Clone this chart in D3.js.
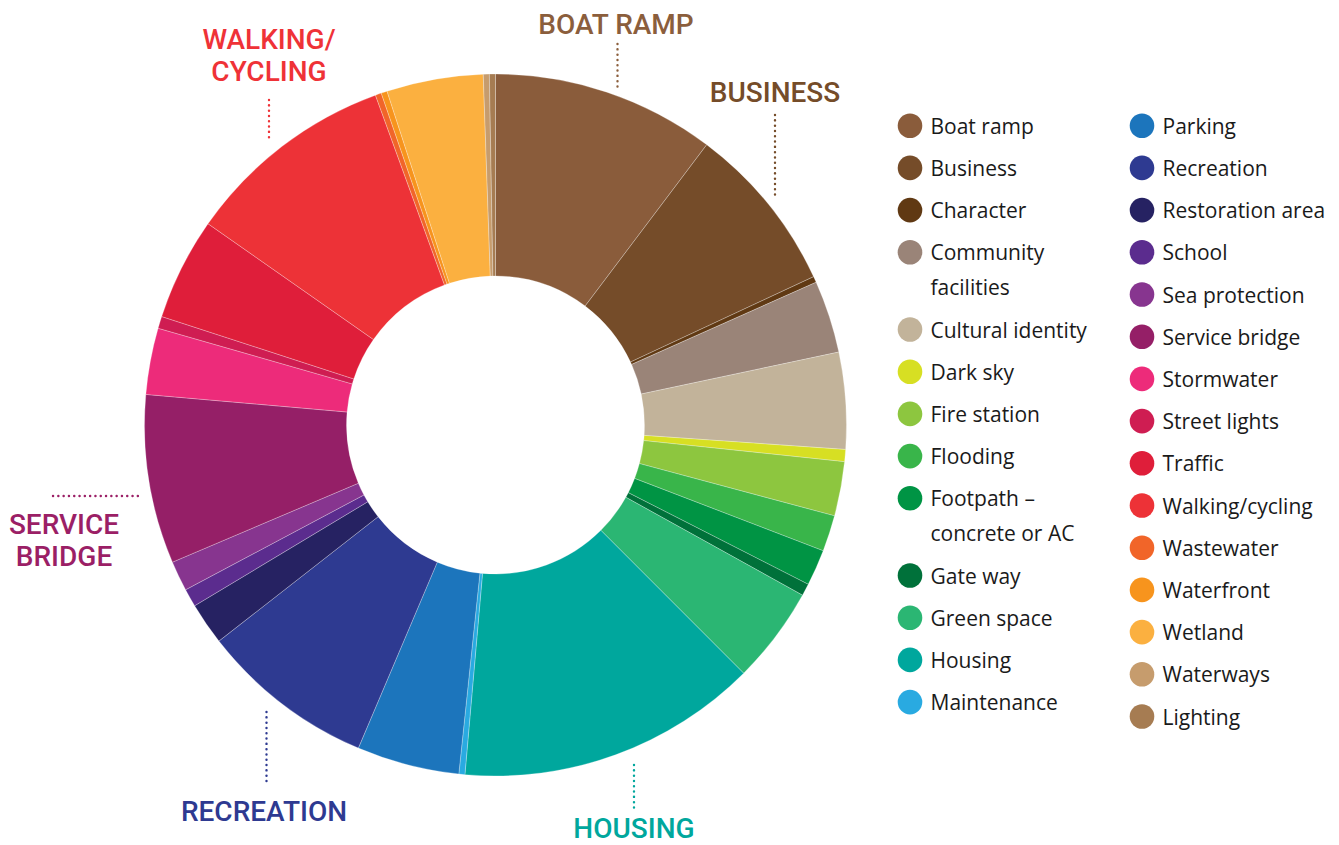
<!DOCTYPE html>
<html>
<head>
<meta charset="utf-8">
<script src="https://cdn.jsdelivr.net/npm/d3@7"></script>
<style>
  html, body { margin: 0; padding: 0; background: #fff; }
  svg { display: block; }
</style>
</head>
<body>
<div id="chart"></div>
<script>

/* DATA */

const categories = [
  "Boat ramp", "Business", "Character", "Community facilities", "Cultural identity",
  "Dark sky", "Fire station", "Flooding", "Footpath – concrete or AC", "Gate way",
  "Green space", "Housing", "Maintenance", "Parking", "Recreation",
  "Restoration area", "School", "Sea protection", "Service bridge", "Stormwater",
  "Street lights", "Traffic", "Walking/cycling", "Wastewater", "Waterfront",
  "Wetland", "Waterways", "Lighting"
];

// share of comments (degrees of 360)
const values = [
  37, 28, 1, 12, 16,
  2, 9, 6, 6, 2,
  16, 50, 1, 17, 29,
  7, 3, 5, 28, 11,
  2, 17, 35, 1, 1,
  16, 1, 1
];

const colors = [
  "#8a5c3b", "#754c29", "#603913", "#9a8478", "#c2b39a",
  "#d7df23", "#8dc63f", "#39b54a", "#009444", "#00713a",
  "#2bb673", "#00a79d", "#29aae1", "#1c75bc", "#2e3a91",
  "#262262", "#5b2c8e", "#87358f", "#951f67", "#ed2b7a",
  "#cf1d52", "#df1e3a", "#ed3237", "#f16529", "#f7941d",
  "#fbb040", "#c69c6d", "#a67c52"
];

// legend rows (wrapped labels split into lines)
const legendCol1 = [
  ["Boat ramp"], ["Business"], ["Character"], ["Community", "facilities"],
  ["Cultural identity"], ["Dark sky"], ["Fire station"], ["Flooding"],
  ["Footpath –", "concrete or AC"], ["Gate way"], ["Green space"], ["Housing"],
  ["Maintenance"]
];
const legendCol2 = [
  ["Parking"], ["Recreation"], ["Restoration area"], ["School"], ["Sea protection"],
  ["Service bridge"], ["Stormwater"], ["Street lights"], ["Traffic"],
  ["Walking/cycling"], ["Wastewater"], ["Waterfront"], ["Wetland"],
  ["Waterways"], ["Lighting"]
];

// big callouts around the ring
const callouts = [
  { cat: "Boat ramp", lines: ["BOAT RAMP"], color: "#8b5e3c" },
  { cat: "Business", lines: ["BUSINESS"], color: "#754c29" },
  { cat: "Walking/cycling", lines: ["WALKING/", "CYCLING"], color: "#ef3237" },
  { cat: "Service bridge", lines: ["SERVICE", "BRIDGE"], color: "#9b1f66" },
  { cat: "Recreation", lines: ["RECREATION"], color: "#2e3a91" },
  { cat: "Housing", lines: ["HOUSING"], color: "#00a79d" }
];

/* LAYOUT */

const width = 1339;
const height = 845;
const cx = 495.5, cy = 425;
const outerR = 351, innerR = 149;

// label x/baseline and dotted leader per callout
const calloutPos = {
  "Boat ramp":       { x: 616, y: 34,  line: [[617.5, 44], [617.5, 87]] },
  "Business":        { x: 775, y: 102, line: [[775, 115], [775, 199]] },
  "Walking/cycling": { x: 269, y: 49,  line: [[269, 100], [269, 141]] },
  "Service bridge":  { x: 64,  y: 534, line: [[53, 496], [139, 496]] },
  "Recreation":      { x: 264, y: 821, line: [[266.5, 712], [266.5, 786]] },
  "Housing":         { x: 634, y: 838, line: [[634, 765], [634, 808]] }
};

const legend = {
  col1x: 910, col2x: 1142, textGap: 20.5,
  top: 125.7, step: 42.2, wrap: 35, r: 12.3
};

const colorScale = d3.scaleOrdinal()
  .domain(categories)
  .range(colors);

const svg = d3.select("#chart")
  .append("svg")
  .attr("width", width)
  .attr("height", height);

// DONUT ==========================================
const pie = d3.pie()
  .sort(null)
  .value(d => d.value)
  .startAngle(0)
  .endAngle(2 * Math.PI);

const arc = d3.arc()
  .innerRadius(innerR)
  .outerRadius(outerR);

const pieData = pie(categories.map((c, i) => ({ cat: c, value: values[i] })));

svg.append("g")
  .attr("transform", `translate(${cx}, ${cy})`)
  .selectAll("path")
  .data(pieData)
  .join("path")
  .attr("d", arc)
  .attr("fill", d => colorScale(d.data.cat))
  .attr("stroke", "#ffffff")
  .attr("stroke-opacity", 0.45)
  .attr("stroke-width", 0.6);

// CALLOUTS ========================================
const co = svg.append("g")
  .selectAll("g")
  .data(callouts)
  .join("g");

co.append("line")
  .attr("x1", d => calloutPos[d.cat].line[0][0])
  .attr("y1", d => calloutPos[d.cat].line[0][1])
  .attr("x2", d => calloutPos[d.cat].line[1][0])
  .attr("y2", d => calloutPos[d.cat].line[1][1])
  .attr("stroke", d => d.color)
  .attr("stroke-width", 2.4)
  .attr("stroke-linecap", "round")
  .attr("stroke-dasharray", "0.1 5.2");

co.append("text")
  .attr("text-anchor", "middle")
  .style("font-family", "Roboto, 'DejaVu Sans', sans-serif")
  .style("font-weight", 500)
  .style("font-size", "28px")
  .attr("fill", d => d.color)
  .selectAll("tspan")
  .data(d => d.lines.map((l, i) => ({ l, i, cat: d.cat })))
  .join("tspan")
  .attr("x", d => calloutPos[d.cat].x)
  .attr("y", d => calloutPos[d.cat].y + d.i * 32)
  .text(d => d.l);

// LEGEND ==========================================
function drawLegend(rows, x) {
  let y = legend.top;
  const g = svg.append("g");
  rows.forEach(lines => {
    const cat = lines.join(" ");
    g.append("circle")
      .attr("cx", x)
      .attr("cy", y)
      .attr("r", legend.r)
      .attr("fill", colorScale(cat));
    const t = g.append("text")
      .style("font-family", "'Open Sans', 'Noto Sans', sans-serif")
      .style("font-size", "21px")
      .attr("fill", "#1a1a1a");
    lines.forEach((l, i) => {
      t.append("tspan")
        .attr("x", x + legend.textGap)
        .attr("y", y + 8 + i * legend.wrap)
        .text(l);
    });
    y += legend.step + (lines.length - 1) * legend.wrap;
  });
}

drawLegend(legendCol1, legend.col1x);
drawLegend(legendCol2, legend.col2x);

</script>
</body>
</html>
